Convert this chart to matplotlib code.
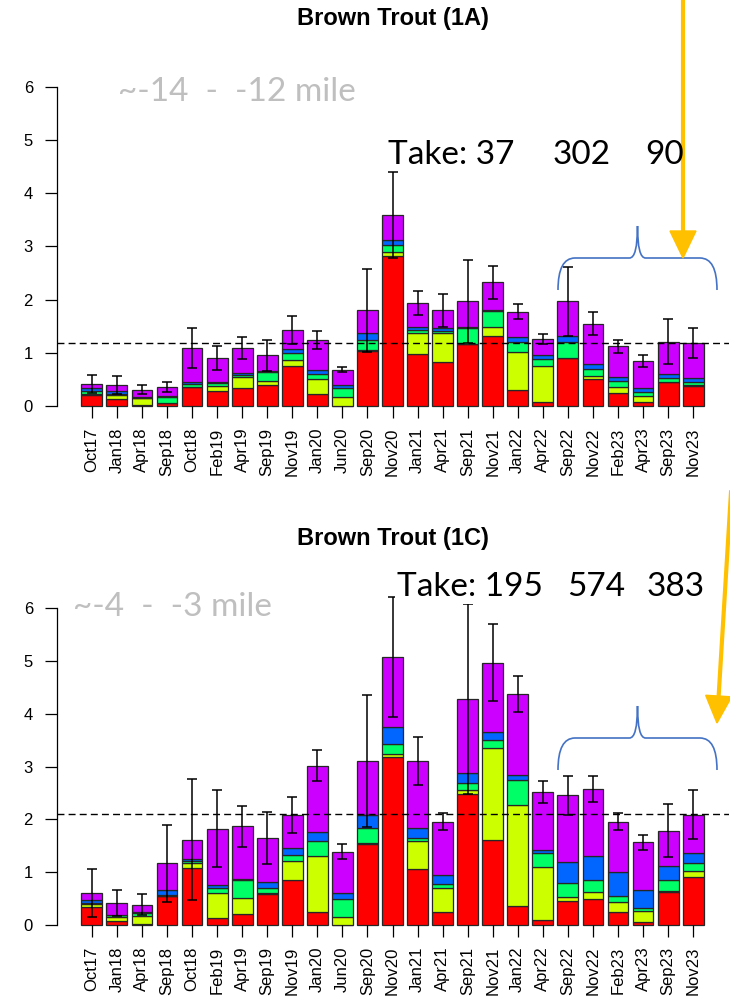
import numpy as np
import matplotlib.pyplot as plt
from matplotlib.path import Path
from matplotlib.patches import PathPatch, Polygon
from matplotlib.lines import Line2D

plt.rcParams['font.family'] = ['Liberation Sans', 'DejaVu Sans']

months = ['Oct17', 'Jan18', 'Apr18', 'Sep18', 'Oct18', 'Feb19', 'Apr19', 'Sep19',
          'Nov19', 'Jan20', 'Jun20', 'Sep20', 'Nov20', 'Jan21', 'Apr21', 'Sep21',
          'Nov21', 'Jan22', 'Apr22', 'Sep22', 'Nov22', 'Feb23', 'Apr23', 'Sep23', 'Nov23']

# site 1A, stacked size classes (bottom to top)
red_1a = [0.21, 0.13, 0.02, 0.05, 0.36, 0.28, 0.33, 0.39, 0.755, 0.22, 0.00, 1.04, 2.82,
          0.98, 0.82, 1.16, 1.32, 0.30, 0.075, 0.90, 0.51, 0.25, 0.075, 0.45, 0.38]
yel_1a = [0.02, 0.08, 0.125, 0.01, 0.00, 0.10, 0.22, 0.08, 0.115, 0.28, 0.16, 0.01, 0.07,
          0.39, 0.55, 0.01, 0.16, 0.71, 0.685, 0.01, 0.06, 0.10, 0.115, 0.00, 0.01]
grn_1a = [0.05, 0.02, 0.01, 0.10, 0.06, 0.06, 0.03, 0.17, 0.135, 0.10, 0.17, 0.195, 0.14,
          0.05, 0.04, 0.30, 0.30, 0.185, 0.13, 0.30, 0.13, 0.12, 0.08, 0.07, 0.07]
blu_1a = [0.06, 0.06, 0.01, 0.02, 0.04, 0.02, 0.04, 0.02, 0.07, 0.08, 0.06, 0.125, 0.10,
          0.06, 0.06, 0.01, 0.02, 0.105, 0.06, 0.10, 0.09, 0.08, 0.07, 0.08, 0.06]
pur_1a = [0.07, 0.10, 0.145, 0.18, 0.63, 0.44, 0.47, 0.295, 0.355, 0.56, 0.29, 0.43, 0.47,
          0.46, 0.33, 0.49, 0.53, 0.47, 0.31, 0.66, 0.76, 0.57, 0.50, 0.61, 0.66]
se_1a = [0.17, 0.17, 0.09, 0.09, 0.37, 0.23, 0.20, 0.29, 0.26, 0.17, 0.05, 0.78, 0.81,
         0.23, 0.31, 0.78, 0.31, 0.14, 0.10, 0.65, 0.22, 0.12, 0.11, 0.42, 0.28]
mean_1a = 1.18

# site 1C
red_1c = [0.35, 0.08, 0.02, 0.54, 1.075, 0.125, 0.21, 0.585, 0.85, 0.24, 0.00, 1.54, 3.18,
          1.06, 0.24, 2.49, 1.62, 0.36, 0.10, 0.46, 0.49, 0.24, 0.05, 0.62, 0.91]
yel_1c = [0.05, 0.08, 0.155, 0.01, 0.105, 0.475, 0.305, 0.015, 0.37, 1.07, 0.16, 0.02, 0.07,
          0.53, 0.47, 0.06, 1.74, 1.91, 0.99, 0.07, 0.14, 0.20, 0.22, 0.02, 0.11]
grn_1c = [0.02, 0.02, 0.055, 0.02, 0.04, 0.10, 0.34, 0.11, 0.11, 0.29, 0.33, 0.28, 0.19,
          0.05, 0.06, 0.15, 0.15, 0.47, 0.27, 0.27, 0.23, 0.11, 0.05, 0.22, 0.15]
blu_1c = [0.05, 0.01, 0.01, 0.09, 0.04, 0.055, 0.015, 0.11, 0.12, 0.16, 0.11, 0.25, 0.31,
          0.20, 0.17, 0.18, 0.14, 0.10, 0.07, 0.40, 0.45, 0.46, 0.35, 0.25, 0.19]
pur_1c = [0.14, 0.225, 0.14, 0.51, 0.36, 1.065, 1.00, 0.83, 0.64, 1.26, 0.79, 1.02, 1.33,
          1.27, 1.02, 1.41, 1.32, 1.54, 1.09, 1.26, 1.27, 0.95, 0.90, 0.68, 0.73]
se_1c = [0.45, 0.25, 0.20, 0.73, 1.15, 0.73, 0.39, 0.50, 0.34, 0.29, 0.14, 1.25, 1.13,
         0.46, 0.16, 1.80, 0.73, 0.34, 0.20, 0.37, 0.25, 0.16, 0.14, 0.50, 0.46]
mean_1c = 2.1

colours = ['#FF0000', '#CCFF00', '#00FF66', '#0066FF', '#CC00FF']

W, H = 730, 997
fig = plt.figure(figsize=(W / 100, H / 100), dpi=100)


def fx(x, y):
    # pixel position (from top-left) to figure fraction
    return x / W, 1 - y / H


def panel(top_px, bottom_px, layers, se, mean, title, title_y):
    ax = fig.add_axes([56.5 / W, 1 - bottom_px / H, 672 / W, (bottom_px - top_px) / H])
    x = np.arange(len(months))
    base = np.zeros(len(months))
    for vals, col in zip(layers, colours):
        vals = np.array(vals)
        ax.bar(x, vals, bottom=base, width=0.833, color=col,
               edgecolor='#262626', linewidth=0.9)
        base = base + vals
    ax.errorbar(x, base, yerr=se, fmt='none', ecolor='black',
                elinewidth=1.1, capsize=3.6, capthick=1.1)
    ax.axhline(mean, color='black', lw=1.0, dashes=(5, 3))

    ax.set_xlim(-1.41, 25.41)
    ax.set_ylim(-0.226, 6.24)
    for s in ['top', 'right', 'bottom']:
        ax.spines[s].set_visible(False)
    ax.spines['left'].set_bounds(0, 6)
    ax.spines['left'].set_linewidth(0.9)
    ax.set_yticks(range(7))
    ax.tick_params(axis='y', direction='out', length=9, width=0.9, pad=8, labelsize=12)
    ax.set_xticks(x)
    ax.set_xticklabels(months, rotation=90, fontsize=12)
    ax.tick_params(axis='x', direction='in', length=8.3, width=0.9, pad=7)
    fig.text(*fx(392.5, title_y), title, ha='center', va='center',
             fontsize=17, fontweight='bold')
    return ax


ax1 = panel(74.2, 418, [red_1a, yel_1a, grn_1a, blu_1a, pur_1a], se_1a, mean_1a,
            'Brown Trout (1A)', 19)
ax2 = panel(595.8, 936.9, [red_1c, yel_1c, grn_1c, blu_1c, pur_1c], se_1c, mean_1c,
            'Brown Trout (1C)', 538)

# slide annotations
note = dict(family=['Lato', 'DejaVu Sans'], fontsize=24, va='center', ha='left')
fig.text(*fx(118, 92), '~-14  -  -12 mile', color='#BFBFBF', **note)
fig.text(*fx(73, 607), '~-4  -  -3 mile', color='#BFBFBF', **note)
for xp, s in [(388, 'Take: 37'), (553, '302'), (645, '90')]:
    fig.text(*fx(xp, 155), s, color='black', **note)
for xp, s in [(397, 'Take: 195'), (567, '574'), (647, '383')]:
    fig.text(*fx(xp, 587), s, color='black', zorder=5,
             bbox=dict(facecolor='white', edgecolor='none', pad=1.5), **note)


def brace(x0, x1, y_end, y_mid, y_tip):
    xc = (x0 + x1) / 2
    pts = [(x0, y_end), (x0, y_mid), (x0 + 17, y_mid),
           (xc - 8, y_mid), (xc, y_mid), (xc, y_tip),
           (xc, y_mid), (xc + 8, y_mid),
           (x1 - 17, y_mid), (x1, y_mid), (x1, y_end)]
    codes = [Path.MOVETO, Path.CURVE3, Path.CURVE3,
             Path.LINETO, Path.CURVE3, Path.CURVE3,
             Path.CURVE3, Path.CURVE3,
             Path.LINETO, Path.CURVE3, Path.CURVE3]
    path = Path([fx(*p) for p in pts], codes)
    fig.add_artist(PathPatch(path, fill=False, edgecolor='#4472C4', lw=1.2,
                             transform=fig.transFigure))


brace(558, 717, 290, 258, 226)
brace(558, 717, 770, 738, 706)


def arrow(start, tip, head_w=26, head_l=27):
    s = np.array(start, float)
    t = np.array(tip, float)
    d = (t - s) / np.hypot(*(t - s))
    n = np.array([-d[1], d[0]])
    base = t - head_l * d
    fig.add_artist(Line2D(*zip(fx(*s), fx(*(base + 2 * d))), color='#FFC000', lw=3,
                          transform=fig.transFigure))
    head = [fx(*(base + n * head_w / 2)), fx(*(base - n * head_w / 2)), fx(*t)]
    fig.add_artist(Polygon(head, closed=True, color='#FFC000', transform=fig.transFigure))


arrow((683, -5), (683, 258))
arrow((736, 410), (717, 723))

fig.savefig('out.png', dpi=100)
